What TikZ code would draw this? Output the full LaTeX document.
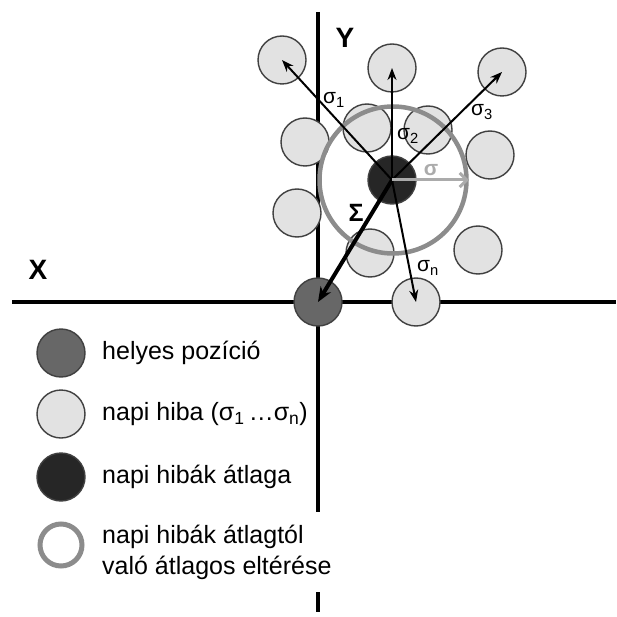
\documentclass[tikz,border=0pt]{standalone}
\usepackage{fontspec}
\setmainfont{Liberation Sans}
\usetikzlibrary{arrows.meta}
\definecolor{truegray}{HTML}{676767}
\definecolor{dailygray}{HTML}{E2E2E2}
\definecolor{meangray}{HTML}{262626}
\definecolor{ringgray}{HTML}{8C8C8C}
\definecolor{sigmagray}{HTML}{ABABAB}

\begin{document}
\begin{tikzpicture}[x=1pt, y=-1pt,
        dot/.style={circle, draw=black!75, line width=1.4pt, minimum size=48pt, inner sep=0pt},
        daily/.style={dot, fill=dailygray},
        axis/.style={line width=3.5pt},
        err/.style={-{Stealth[length=12pt, width=9pt]}, line width=2pt},
        lbl/.style={font=\fontsize{21}{23}\selectfont, inner sep=0pt},
        legend/.style={anchor=west, align=left, inner sep=0pt, font=\fontsize{25}{31}\selectfont}
        ]
        \useasboundingbox (0,0) rectangle (616,617);
        % Axes
        \coordinate (ytop) at (318,12);
        \coordinate (ymid) at (318,512);
        \coordinate (ylow) at (318,592);
        \coordinate (ybot) at (318,612);
        \coordinate (xleft) at (12,302);
        \coordinate (xright) at (616,302);
        \draw[axis] (ytop) -- (ymid);
        \draw[axis] (ylow) -- (ybot);
        \draw[axis] (xleft) -- (xright);
        \node[font=\bfseries\fontsize{28}{30}\selectfont] (ylabel) at (345,38) {Y};
        \node[font=\bfseries\fontsize{28}{30}\selectfont] (xlabel) at (38,270) {X};

        % Daily errors
        \node[daily] (d1) at (282,60) {};
        \node[daily] (d2) at (392,68) {};
        \node[daily] (d3) at (502,72) {};
        \node[daily] (d4) at (305,142) {};
        \node[daily] (d5) at (367,128) {};
        \node[daily] (d6) at (428,130) {};
        \node[daily] (d7) at (490,155) {};
        \node[daily] (d8) at (297,213) {};
        \node[daily] (d9) at (370,253) {};
        \node[daily] (d10) at (478,250) {};
        \node[daily] (dn) at (416,302) {};
        \node[dot, fill=truegray] (truepos) at (318,302) {};

        % Mean and spread
        \node[circle, draw=ringgray, line width=4.5pt, minimum size=147pt, inner sep=0pt] (ring) at (393,180) {};
        \node[dot, fill=meangray] (mean) at (392,180) {};

        % Arrows
        \draw[err] (mean.center) -- (d1.center);
        \draw[err] (mean.center) -- (d2.center);
        \draw[err] (mean.center) -- (d3.center);
        \draw[err] (mean.center) -- (dn.center);
        \draw[-{Stealth[length=15pt, width=12pt]}, line width=4pt] (mean.center) -- (truepos.center);
        \draw[-{Straight Barb[length=7pt, width=14pt]}, sigmagray, line width=3pt] (mean.center) -- (ring.east);

        % Labels
        \node[lbl] (s1) at (334,100) {σ\textsubscript{1}};
        \node[lbl] (s2) at (408,136) {σ\textsubscript{2}};
        \node[lbl] (s3) at (482,112) {σ\textsubscript{3}};
        \node[lbl] (sn) at (428,268) {σ\textsubscript{n}};
        \node[lbl, sigmagray, font=\bfseries\fontsize{21}{23}\selectfont] (sg) at (431,170) {σ};
        \node[lbl, font=\bfseries\fontsize{25}{27}\selectfont] (bigs) at (356,213) {Σ};

        % Legend
        \node[dot, fill=truegray] (k1) at (61,353) {};
        \node[legend] (t1) at (102,353) {helyes pozíció};
        \node[dot, fill=dailygray] (k2) at (61,414) {};
        \node[legend] (t2) at (102,414) {napi hiba (σ\textsubscript{1}\,…σ\textsubscript{n})};
        \node[dot, fill=meangray] (k3) at (61,477) {};
        \node[legend] (t3) at (102,477) {napi hibák átlaga};
        \node[circle, draw=ringgray, line width=5pt, minimum size=42pt, inner sep=0pt] (k4) at (61,545) {};
        \node[legend] (t4) at (102,552) {napi hibák átlagtól\\való átlagos eltérése};
    \end{tikzpicture}
\end{document}
